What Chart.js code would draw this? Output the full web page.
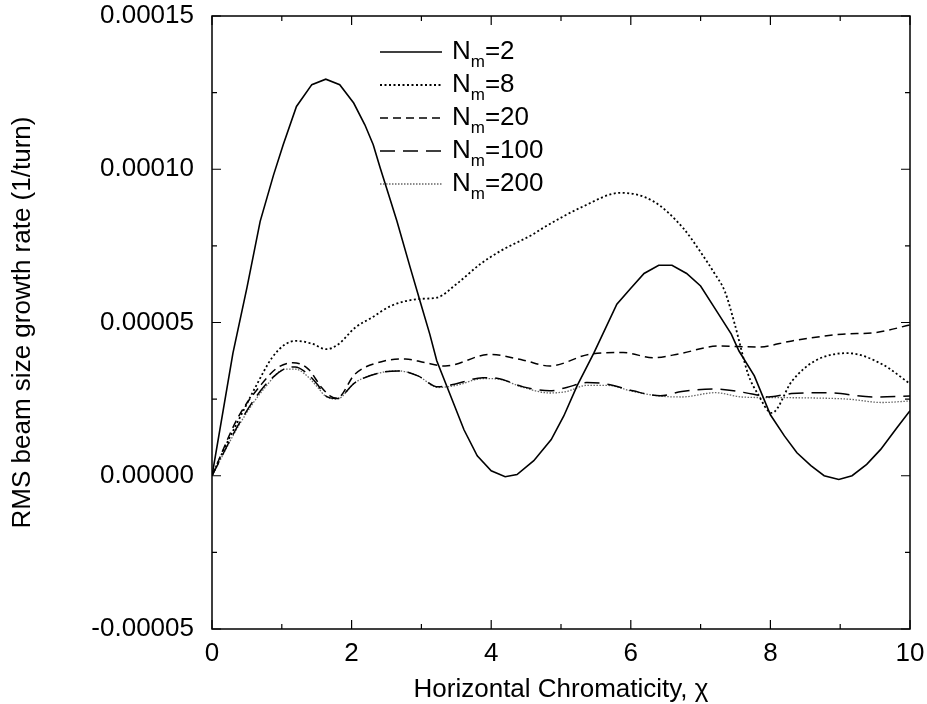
<!DOCTYPE html>
<html>
<head>
<meta charset="utf-8">
<script src="https://cdn.jsdelivr.net/npm/chart.js@4.4.1/dist/chart.umd.min.js"></script>
<style>
  html, body { margin: 0; padding: 0; background: #fff; }
  #wrap { width: 927px; height: 704px; }
</style>
</head>
<body>
<div id="wrap"><canvas id="growthChart" width="927" height="704"></canvas></div>
<script>
// chromaticity (x) and growth rate (1/turn)
const chiN2 = [0, 0.3, 0.5, 0.69, 0.88, 1.02, 1.21, 1.43, 1.63, 1.83, 2.03, 2.19, 2.31, 2.41, 2.53, 2.65, 2.84, 2.98, 3.12, 3.22, 3.61, 3.8, 4.0, 4.2, 4.37, 4.61, 4.86, 5.04, 5.23, 5.47, 5.8, 6.0, 6.19, 6.4, 6.59, 6.8, 7.0, 7.23, 7.44, 7.55, 7.77, 8.0, 8.2, 8.38, 8.58, 8.77, 8.98, 9.17, 9.38, 9.58, 9.81, 10];
const rateN2 = [0, 4.0e-5, 6.13e-5, 8.3e-5, 9.8e-5, 10.8e-5, 12.05e-5, 12.76e-5, 12.94e-5, 12.76e-5, 12.16e-5, 11.45e-5, 10.8e-5, 10.04e-5, 9.18e-5, 8.3e-5, 6.79e-5, 5.7e-5, 4.62e-5, 3.75e-5, 1.5e-5, 0.65e-5, 0.16e-5, -0.03e-5, 0.04e-5, 0.49e-5, 1.18e-5, 1.95e-5, 2.93e-5, 4.0e-5, 5.6e-5, 6.12e-5, 6.6e-5, 6.87e-5, 6.87e-5, 6.6e-5, 6.19e-5, 5.37e-5, 4.62e-5, 4.07e-5, 3.26e-5, 1.99e-5, 1.3e-5, 0.75e-5, 0.33e-5, 0.0, -0.12e-5, 0.0, 0.37e-5, 0.86e-5, 1.56e-5, 2.12e-5];

const chiN8 = [0, 0.2, 0.4, 0.62, 0.86, 1.05, 1.21, 1.43, 1.64, 1.81, 2.05, 2.29, 2.57, 2.98, 3.22, 3.5, 3.84, 4.13, 4.6, 4.74, 5.32, 5.85, 6.32, 6.75, 6.99, 7.2, 7.35, 7.49, 7.68, 7.82, 8.02, 8.31, 8.64, 9.11, 9.6, 10];
const rateN8 = [0, 1.0e-5, 1.9e-5, 2.88e-5, 3.85e-5, 4.29e-5, 4.4e-5, 4.31e-5, 4.13e-5, 4.29e-5, 4.83e-5, 5.16e-5, 5.55e-5, 5.77e-5, 5.81e-5, 6.25e-5, 6.9e-5, 7.33e-5, 7.88e-5, 8.08e-5, 8.79e-5, 9.23e-5, 8.96e-5, 8.08e-5, 7.33e-5, 6.6e-5, 6.0e-5, 4.94e-5, 3.32e-5, 2.67e-5, 2.05e-5, 3.09e-5, 3.75e-5, 4.0e-5, 3.64e-5, 3.0e-5];

const chiN20 = [0, 0.37, 0.71, 0.93, 1.16, 1.38, 1.57, 1.69, 1.79, 2.05, 2.48, 2.77, 3.05, 3.34, 3.98, 4.46, 4.84, 5.42, 5.89, 6.32, 6.7, 7.25, 7.82, 8.31, 9.03, 9.5, 10];
const rateN20 = [0, 1.89e-5, 2.99e-5, 3.51e-5, 3.69e-5, 3.48e-5, 2.88e-5, 2.61e-5, 2.53e-5, 3.32e-5, 3.75e-5, 3.81e-5, 3.69e-5, 3.58e-5, 3.96e-5, 3.77e-5, 3.58e-5, 3.97e-5, 4.02e-5, 3.85e-5, 3.98e-5, 4.23e-5, 4.2e-5, 4.4e-5, 4.62e-5, 4.67e-5, 4.92e-5];

const chiN100 = [0, 0.4, 0.76, 1.05, 1.19, 1.33, 1.52, 1.62, 1.79, 2.05, 2.43, 2.67, 2.95, 3.24, 3.5, 3.88, 4.08, 4.46, 4.84, 5.08, 5.37, 5.66, 6.03, 6.42, 6.73, 7.21, 7.74, 7.97, 8.3, 8.78, 9.5, 10];
const rateN100 = [0, 1.75e-5, 2.95e-5, 3.5e-5, 3.55e-5, 3.4e-5, 2.95e-5, 2.62e-5, 2.52e-5, 3.04e-5, 3.37e-5, 3.42e-5, 3.26e-5, 2.9e-5, 3.0e-5, 3.2e-5, 3.18e-5, 2.9e-5, 2.77e-5, 2.88e-5, 3.04e-5, 2.99e-5, 2.77e-5, 2.61e-5, 2.75e-5, 2.83e-5, 2.67e-5, 2.57e-5, 2.68e-5, 2.71e-5, 2.57e-5, 2.6e-5];

const chiN200 = [0, 0.4, 0.76, 1.05, 1.19, 1.33, 1.52, 1.62, 1.79, 2.05, 2.43, 2.67, 2.95, 3.24, 3.5, 3.88, 4.08, 4.46, 4.84, 5.08, 5.37, 5.66, 6.03, 6.42, 6.73, 7.21, 7.59, 7.97, 8.54, 9.11, 9.6, 10];
const rateN200 = [0, 1.7e-5, 2.88e-5, 3.48e-5, 3.48e-5, 3.32e-5, 2.87e-5, 2.61e-5, 2.5e-5, 3.04e-5, 3.37e-5, 3.42e-5, 3.26e-5, 2.88e-5, 2.95e-5, 3.17e-5, 3.16e-5, 2.88e-5, 2.7e-5, 2.75e-5, 2.95e-5, 2.95e-5, 2.75e-5, 2.6e-5, 2.57e-5, 2.71e-5, 2.57e-5, 2.55e-5, 2.54e-5, 2.5e-5, 2.39e-5, 2.44e-5];

const seriesNames = ['2', '8', '20', '100', '200'];
const xTicks = [0, 2, 4, 6, 8, 10];
const yTicks = [-0.00005, 0, 0.00005, 0.0001, 0.00015];

const FONT = 'Liberation Sans, Arial, Helvetica, sans-serif';

const toPoints = (xs, ys) => xs.map((x, i) => ({ x: x, y: ys[i] }));

const lineSet = (name, xs, ys, dash, width, color, smooth) => ({
    label: 'N_m=' + name,
    data: toPoints(xs, ys),
    borderColor: color,
    borderWidth: width,
    borderDash: dash,
    pointRadius: 0,
    fill: false,
    tension: 0,
    cubicInterpolationMode: smooth ? 'monotone' : 'default'
});

// inward ticks on all four sides plus the frame
const frameTicks = {
    id: 'frameTicks',
    afterDraw(chart) {
        const c = chart.ctx;
        const a = chart.chartArea;
        const xs = chart.scales.x, ys = chart.scales.y;
        c.save();
        c.strokeStyle = '#000';
        c.lineWidth = 1.5;
        c.strokeRect(a.left, a.top, a.right - a.left, a.bottom - a.top);
        c.lineWidth = 1.2;
        const tickX = (v, len) => {
            const px = xs.getPixelForValue(v);
            c.beginPath();
            c.moveTo(px, a.bottom); c.lineTo(px, a.bottom - len);
            c.moveTo(px, a.top); c.lineTo(px, a.top + len);
            c.stroke();
        };
        const tickY = (v, len) => {
            const py = ys.getPixelForValue(v);
            c.beginPath();
            c.moveTo(a.left, py); c.lineTo(a.left + len, py);
            c.moveTo(a.right, py); c.lineTo(a.right - len, py);
            c.stroke();
        };
        xTicks.forEach((v, i) => {
            tickX(v, 9);
            if (i < xTicks.length - 1) tickX((v + xTicks[i + 1]) / 2, 5);
        });
        yTicks.forEach((v, i) => {
            tickY(v, 9);
            if (i < yTicks.length - 1) tickY((v + yTicks[i + 1]) / 2, 5);
        });
        c.restore();
    }
};

// legend with subscript m, inside the plot
const subLegend = {
    id: 'subLegend',
    afterDatasetsDraw(chart) {
        const c = chart.ctx;
        const a = chart.chartArea;
        const x0 = a.left + 168, x1 = a.left + 230, tx = a.left + 240;
        c.save();
        chart.data.datasets.forEach((ds, i) => {
            const y = a.top + 36 + i * 33;
            c.strokeStyle = ds.borderColor;
            c.lineWidth = ds.borderWidth;
            c.setLineDash(ds.borderDash);
            c.beginPath();
            c.moveTo(x0, y); c.lineTo(x1, y);
            c.stroke();
            c.setLineDash([]);
            c.fillStyle = '#000';
            c.textBaseline = 'middle';
            c.font = '26px ' + FONT;
            c.fillText('N', tx, y);
            const w = c.measureText('N').width;
            c.font = '17px ' + FONT;
            c.fillText('m', tx + w, y + 10);
            const w2 = c.measureText('m').width;
            c.font = '26px ' + FONT;
            c.fillText('=' + seriesNames[i], tx + w + w2, y);
        });
        c.restore();
    }
};

const ctx = document.getElementById('growthChart').getContext('2d');

const growthChart = new Chart(ctx, {
    type: 'line',
    data: {
        datasets: [
            lineSet('2', chiN2, rateN2, [], 1.6, '#000', false),
            lineSet('8', chiN8, rateN8, [2, 2.5], 1.8, '#000', true),
            lineSet('20', chiN20, rateN20, [8, 5], 1.5, '#000', true),
            lineSet('100', chiN100, rateN100, [15, 8], 1.5, '#000', true),
            lineSet('200', chiN200, rateN200, [1.5, 1.5], 1.3, '#666', true)
        ]
    },
    options: {
        responsive: false,
        animation: false,
        layout: { padding: 0 },
        plugins: {
            legend: { display: false },
            tooltip: { enabled: false }
        },
        scales: {
            x: {
                type: 'linear',
                min: 0,
                max: 10,
                afterFit: (s) => { s.height = 75; s.paddingRight = 17; },
                afterBuildTicks: (s) => { s.ticks = xTicks.map(v => ({ value: v })); },
                grid: { display: true, drawOnChartArea: false, drawTicks: false },
                border: { display: false },
                ticks: {
                    color: '#000',
                    padding: 9,
                    font: { family: FONT, size: 26 },
                    callback: (v) => String(v)
                },
                title: {
                    display: true,
                    text: 'Horizontal Chromaticity, χ',
                    color: '#000',
                    font: { family: FONT, size: 26, lineHeight: 1 },
                    padding: { top: 0, bottom: 1 }
                }
            },
            y: {
                type: 'linear',
                min: -0.00005,
                max: 0.00015,
                afterFit: (s) => { s.width = 212; s.paddingTop = 16; },
                afterBuildTicks: (s) => { s.ticks = yTicks.map(v => ({ value: v })); },
                grid: { display: true, drawOnChartArea: false, drawTicks: false },
                border: { display: false },
                ticks: {
                    color: '#000',
                    padding: 18,
                    font: { family: FONT, size: 26 },
                    callback: (v) => v.toFixed(5)
                },
                title: {
                    display: true,
                    text: 'RMS beam size growth rate (1/turn)',
                    color: '#000',
                    font: { family: FONT, size: 26, lineHeight: 1 },
                    padding: { top: 10, bottom: 0 }
                }
            }
        }
    },
    plugins: [frameTicks, subLegend]
});
</script>
</body>
</html>
